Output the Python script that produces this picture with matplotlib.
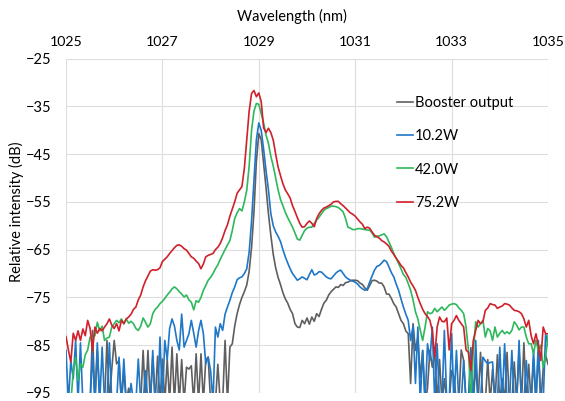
import numpy as np
import matplotlib
matplotlib.use("Agg")
import matplotlib.pyplot as plt

plt.rcParams["font.family"] = ["Lato", "DejaVu Sans"]

# wavelength grid: 1025.00 .. 1035.00, step 0.05 nm
wl = np.round(np.arange(1025.0, 1035.0001, 0.05), 2)

# values, one row per nm (20 values), last value at 1035.00
booster = [
    -97, -97, -97, -97, -97, -97, -97, -97, -97, -97, -97, -81.9, -97, -86, -97, -97, -97, -84, -97, -90,
    -84, -88.9, -88.2, -97, -90.3, -97, -94, -97, -97, -97, -97, -97, -86.1, -97, -86.1, -97, -87.5, -97, -87.3, -97,
    -87.9, -97, -87.9, -97, -85.4, -97, -86.8, -97, -88, -97, -89.6, -90, -89.3, -97, -86.8, -97, -86.8, -97, -88, -87.5,
    -97, -97, -97, -89, -97, -97, -84, -97, -85.4, -84.7, -81, -78.4, -76.5, -75, -73.8, -72.4, -69.5, -64.5, -57, -46.5,
    -40.7, -42, -47, -52, -57.5, -62, -66, -68.8, -70.8, -72.3, -74, -75.3, -76.2, -77.5, -78.4, -80.5, -81.2, -81.3, -79.8, -80.5,
    -79.3, -80.6, -79.1, -80, -78.4, -79, -77.5, -76.2, -75.6, -74.5, -73.8, -73.3, -72.8, -72.9, -72.3, -72.5, -71.9, -71.8, -71.5, -71.4,
    -71.4, -71.5, -72, -72.3, -73, -73.5, -72.5, -71.5, -71.4, -71.6, -72, -72, -72.8, -74.3, -74.3, -75.2, -76.3, -77, -78.4, -79.8,
    -80.5, -82, -82.6, -93, -80.5, -86.1, -83.3, -91.7, -86.1, -97, -94, -86, -89.6, -86.5, -97, -88, -97, -92, -97, -97,
    -90.3, -91.7, -97, -97, -86, -88.2, -97, -97, -85.5, -97, -89, -97, -86.5, -97, -97, -88, -97, -90, -97, -87,
    -97, -92, -97, -86.5, -97, -97, -88.5, -97, -86, -97, -84.5, -97, -89, -97, -88, -97, -86.5, -97, -90, -87,
    -89,
]
p10 = [
    -86.1, -97, -88.2, -92, -84, -97, -84.5, -97, -97, -97, -97, -86.8, -97, -84.5, -97, -85.4, -97, -97, -84.5, -97,
    -97, -97, -87.5, -97, -87.9, -97, -97, -93, -97, -97, -87.9, -97, -97, -90.3, -97, -97, -86.1, -97, -97, -83.3,
    -97, -84, -88, -81.5, -79.5, -81, -84, -86, -78.5, -85.4, -84, -82.6, -79.8, -82.5, -85.4, -82, -79.8, -82.6, -88.9, -87.5,
    -90.3, -97, -81.2, -83.3, -80.5, -81.9, -78.5, -77, -75.6, -74, -72.8, -71.3, -70.9, -70.7, -70, -69, -65.5, -59, -50.5, -42,
    -38.5, -40, -44, -48.5, -52.5, -57.5, -60, -61.3, -62.2, -63.3, -65, -66.5, -67.8, -69, -70, -70.7, -71.4, -71.1, -70.7, -71,
    -71.3, -70.2, -69.2, -70.3, -70.1, -69.6, -69.7, -70.2, -70.7, -71, -71.1, -70.5, -69.9, -69.5, -69.3, -70, -70.7, -71.1, -71.4, -71.6,
    -71.8, -72.2, -72.8, -73.2, -73.5, -73.2, -71.8, -70.5, -69.3, -68.5, -68.3, -67.8, -67.2, -67.5, -68.6, -69.8, -70.7, -72.2, -73.5, -75.3,
    -77, -78.5, -79.8, -84, -81, -93, -81.2, -97, -86.1, -97, -84.7, -88.2, -81.2, -97, -84.7, -97, -97, -81.9, -97, -97,
    -82.6, -97, -86.1, -97, -97, -88.2, -97, -97, -86.1, -97, -84, -97, -97, -87.5, -88.3, -88.9, -88.6, -88.5, -97, -97,
    -85.4, -97, -84.7, -97, -97, -86.1, -97, -97, -84, -97, -97, -88.2, -97, -97, -86, -97, -84, -97, -97, -82.6,
    -85,
]
p42 = [
    -97, -97, -97, -90.5, -87.5, -92.4, -88.9, -89.6, -87, -86, -83.3, -83.5, -83, -80.2, -82, -81, -84, -83.5, -83.3, -81.2,
    -80.5, -79.8, -80.3, -79.5, -80.5, -79.5, -80.4, -80, -80.5, -81.5, -81.9, -81, -79.3, -80.2, -81.2, -80.5, -78.4, -77.5, -77, -76.3,
    -75.8, -75.2, -74.5, -73.9, -73.2, -72.8, -73.2, -73.8, -74.3, -74.9, -74.5, -75.5, -76, -77.6, -75.7, -76, -75, -73.5, -72.5, -71.4,
    -70.8, -70, -69, -68.2, -67, -66, -65, -64, -63.1, -61, -58.5, -57.3, -56.4, -56.9, -55, -52.6, -47.5, -40, -36, -34.4,
    -34.6, -36.5, -38.5, -41, -42.8, -45.5, -47.5, -50, -52.5, -54.5, -55.8, -57.2, -58.3, -59.3, -60.3, -61.5, -62.8, -63, -62, -61,
    -60.5, -60.3, -60.3, -59.5, -58.8, -58.2, -57.5, -56.8, -56.4, -56.2, -55.9, -55.9, -56, -56.2, -56.6, -57.1, -58.5, -60.3, -60.5, -60.8,
    -60.8, -60.6, -60.6, -60.7, -60.8, -60.9, -60.9, -61.5, -62.4, -62.2, -62.1, -61.9, -61.7, -62.3, -63.4, -64.5, -65.8, -66.8, -67.9, -69,
    -70.2, -70.8, -72.1, -73.5, -75.5, -78, -79.5, -81.9, -84, -81.2, -78, -78.4, -78.2, -77.3, -78, -77.5, -77, -77.7, -77.2, -76.6,
    -76.4, -76.3, -76.5, -77.2, -77.7, -78.4, -81.2, -86.1, -97, -86.1, -80.1, -81.2, -80.5, -79.8, -83.3, -81.5, -82, -84, -81.2, -83.3,
    -82.5, -81.9, -82.6, -82.2, -82.6, -81.9, -80.1, -80.8, -81.8, -81.2, -81.2, -83.3, -84.7, -84.7, -86.8, -84, -86.1, -85, -89.6, -87.5,
    -83,
]
p75 = [
    -83.2, -86, -88.5, -82.5, -84, -82, -84, -81.6, -83, -79.8, -81.5, -86, -81.2, -82.5, -81.5, -82, -81.2, -80.5, -79.5, -80.8,
    -81.5, -80.5, -82, -79.8, -80.5, -79.5, -79.1, -78.5, -77.5, -77, -75.5, -74.5, -72.8, -71.5, -70.5, -69.5, -69.2, -69.3, -69.2, -68.8,
    -67.5, -67, -66.5, -65.8, -65.2, -64.6, -64.1, -64.0, -64.3, -64.8, -65.1, -65.8, -66.5, -66.8, -67.4, -67.9, -69.0, -68.0, -66.5, -66.2,
    -66, -65.8, -65, -64.5, -63.7, -62.5, -61, -59.8, -58, -56.5, -55, -53.2, -52.5, -51.8, -48, -42, -36, -32.3, -31.7, -33.0,
    -32.2, -34, -39.5, -40.5, -39.6, -40.5, -42.1, -45, -47.7, -49.5, -51.2, -52.5, -53.3, -54.2, -55.8, -57, -58.3, -59.5, -60.3, -60.2,
    -59.5, -59.0, -59.5, -60.2, -58.5, -57.5, -56.8, -56.3, -56.1, -55.8, -55.5, -55.0, -54.9, -54.9, -55.4, -55.8, -56.3, -56.8, -57.3, -57.6,
    -58.0, -58.6, -59.2, -59.7, -60.6, -60.3, -60.5, -61.3, -62.0, -62.3, -62.6, -63.1, -63.4, -63.8, -64.3, -65.3, -66.0, -66.8, -67.5, -68.3,
    -68.8, -69.8, -70.7, -71.8, -72.6, -73.5, -75, -76.3, -77.5, -78.4, -79, -79.8, -82, -87.5, -81.2, -79.1, -80, -80.1, -79.3, -86,
    -80.5, -79.8, -78.8, -79.8, -80.5, -81.2, -86, -86.5, -90.3, -84, -81.9, -79.8, -80.5, -80.1, -77.7, -77.2, -76.3, -76.5, -76.6, -77.3,
    -77, -76.8, -76.3, -76.4, -76.6, -77.2, -77.7, -77.8, -78, -78.4, -79.5, -81.2, -79.8, -83, -84.7, -82.6, -85, -88.2, -81.2, -82.6,
    -82.6,
]

series = [("Booster output", booster, "#5f5f5f"),
          ("10.2W", p10, "#1f77c8"),
          ("42.0W", p42, "#2eb85c"),
          ("75.2W", p75, "#d0202a")]

x_ticks = [1025, 1027, 1029, 1031, 1033, 1035]
y_ticks = [-25, -35, -45, -55, -65, -75, -85, -95]

W, H = 565, 401
fig = plt.figure(figsize=(W / 100, H / 100), dpi=100)
ax = fig.add_axes([66 / W, 1 - 393 / H, (548 - 66) / W, (393 - 58.5) / H])

for name, vals, col in series:
    ax.plot(wl, vals, color=col, lw=1.2, label=name)

ax.set_xlim(1025, 1035)
ax.set_ylim(-95, -25)
ax.set_xticks(x_ticks)
ax.set_yticks(y_ticks)
ax.xaxis.tick_top()
ax.tick_params(axis="x", length=0, pad=7.5, labelsize=10.2, colors="#000000")
ax.tick_params(axis="y", length=0, pad=10.5, labelsize=10.5, colors="#000000")
ax.grid(True, color="#dddddd", lw=0.8)
ax.set_axisbelow(True)
for s in ax.spines.values():
    s.set_visible(False)

fig.text(292 / W, 1 - 16 / H, "Wavelength (nm)", ha="center", va="center", fontsize=10.5)
fig.text(16 / W, 1 - 212 / H, "Relative intensity (dB)", ha="center", va="center",
         rotation=90, fontsize=10.5)

leg = ax.legend(loc="upper left", bbox_to_anchor=((397 - 66) / (548 - 66), (393 - 96) / (393 - 58.5)),
                frameon=False, fontsize=10.5, handlelength=1.1, handletextpad=0.15,
                labelspacing=1.32, borderpad=0, borderaxespad=0)

fig.savefig("out.png", dpi=100, facecolor="white")
